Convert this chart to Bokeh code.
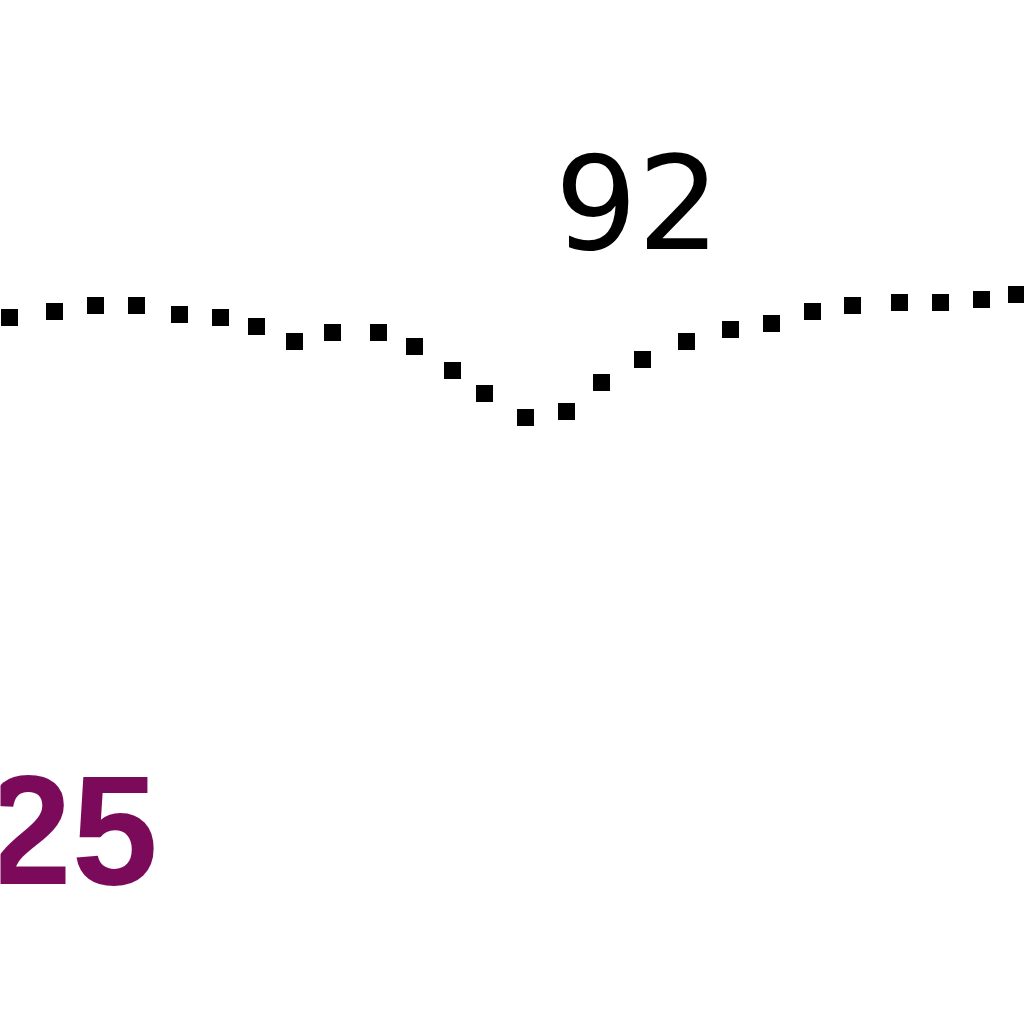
from bokeh.plotting import figure
from bokeh.models import Range1d, ColumnDataSource
from bokeh.core.properties import value
from bokeh.embed import file_html
from bokeh.resources import INLINE

# dotted series (page pixels, y grows downward)
dot_x = [9, 54, 95, 136, 179, 220, 256, 294, 332, 378, 414, 452, 484,
         525, 566, 601, 642, 686, 730, 771, 812, 852, 899, 940, 981, 1016]
dot_y = [317, 311, 305, 305, 314, 317, 326, 341, 332, 332, 346, 370, 393,
         417, 411, 382, 359, 341, 329, 323, 311, 305, 302, 302, 299, 294]

# labels
label_top = ["92"]
label_top_x = [637]
label_top_y = [200]
label_big = ["25"]
label_big_x = [-15]
label_big_y = [829]

W = H = 1024
p = figure(width=W, height=H, output_backend="svg", toolbar_location=None,
           x_range=Range1d(0, W), y_range=Range1d(H, 0),
           min_border=0)
p.axis.visible = False
p.grid.visible = False
p.outline_line_color = None
p.background_fill_color = "white"
p.border_fill_color = "white"

src = ColumnDataSource(dict(x=dot_x, y=dot_y))
p.scatter("x", "y", source=src, marker="square", size=17,
          fill_color="black", line_color="black", line_width=0)

p.text(label_top_x, label_top_y, text=label_top, text_align="center",
       text_baseline="alphabetic", text_font=value("DejaVu Sans"),
       text_font_size="130px", text_color="black")

p.text(label_big_x, label_big_y, text=label_big, text_align="left",
       text_baseline="alphabetic", text_font=value("Liberation Sans"),
       text_font_style="bold", text_font_size="155px", text_color="#7b0a5a")

open("out.html", "w").write(file_html(p, INLINE))
